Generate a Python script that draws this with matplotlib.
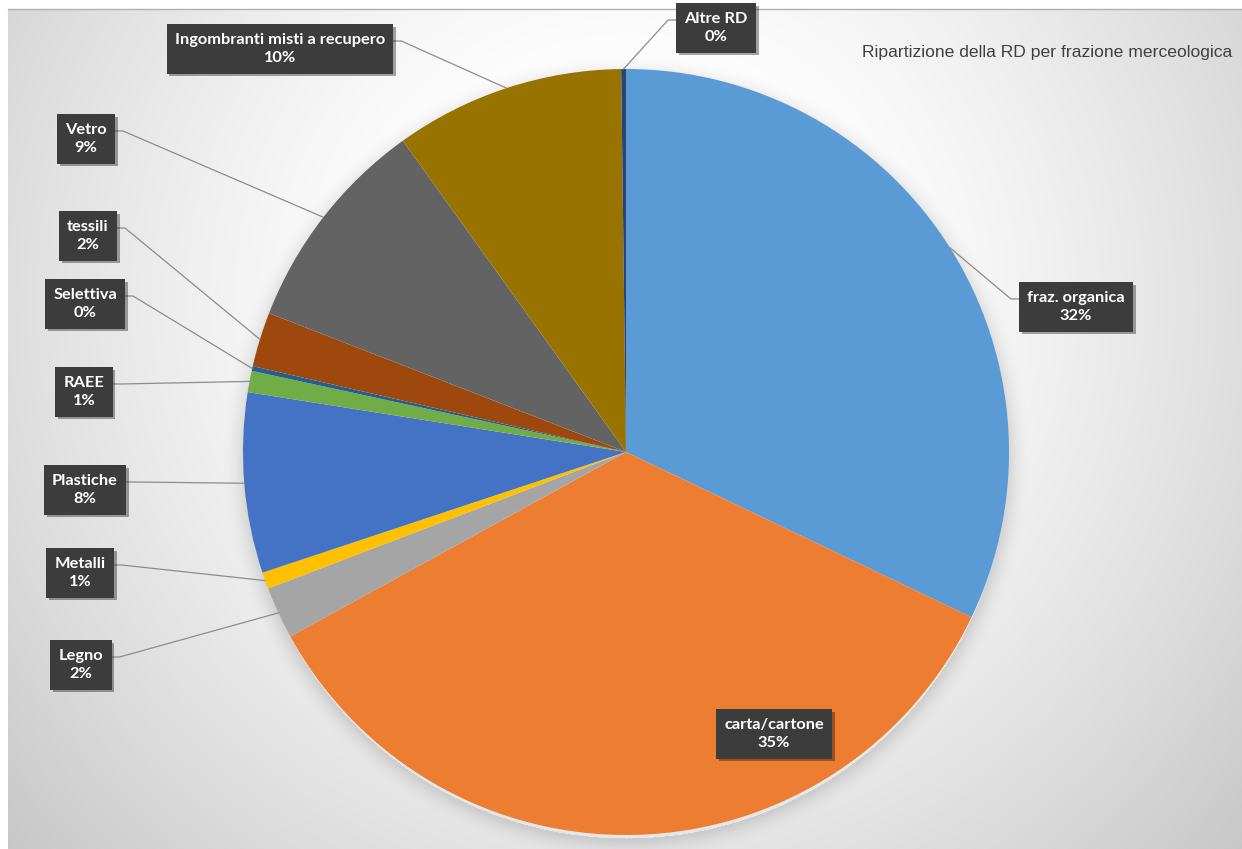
import numpy as np
import matplotlib
matplotlib.use("Agg")
import matplotlib.pyplot as plt
from matplotlib import patheffects

# Ripartizione della raccolta differenziata per frazione merceologica (%)
categories = ["fraz. organica", "carta/cartone", "Legno", "Metalli", "Plastiche",
              "RAEE", "Selettiva", "tessili", "Vetro",
              "Ingombranti misti a recupero", "Altre RD"]
shares = [32.1, 34.9, 2.2, 0.7, 7.6, 0.9, 0.2, 2.3, 9.2, 9.7, 0.2]
colors = ["#5B9BD5", "#ED7D31", "#A5A5A5", "#FFC000", "#4472C4", "#70AD47",
          "#255E91", "#9E480E", "#636363", "#997300", "#264478"]
title = "Ripartizione della RD per frazione merceologica"

W, H = 1242, 849
CX, CY, R = 626, H - 452, 383

# label box centres in pixels (y from top); carta/cartone sits inside its slice
label_pos = {
    "fraz. organica": (1076, 307),
    "carta/cartone": (774, 734),
    "Legno": (81, 665),
    "Metalli": (80, 573),
    "Plastiche": (85, 490),
    "RAEE": (84, 392),
    "Selettiva": (85, 304),
    "tessili": (88, 236),
    "Vetro": (86, 139),
    "Ingombranti misti a recupero": (280, 49),
    "Altre RD": (716, 28),
}

fig = plt.figure(figsize=(W / 100, H / 100), dpi=100)
ax = fig.add_axes([0, 0, 1, 1])

# grey radial background with a soft shadow under the pie
yy, xx = np.mgrid[0:H, 0:W]
d = np.hypot(xx - 626, yy - 300)
bg = 1 - 0.22 * np.clip((d - 200) / 630, 0, 1) ** 1.3
ds = np.hypot(xx - CX, yy - (452 + 5))
shadow = np.where(ds > R - 2, np.clip(1 - (ds - R) / 22, 0, 1) ** 2, 0)
bg = bg - 0.10 * shadow
bg[:9, :] = 1.0
bg[:, :8] = 1.0
ax.imshow(np.dstack([bg] * 3), extent=(0, W, 0, H), origin="upper",
          interpolation="bilinear", zorder=0)
ax.plot([8, W], [H - 9, H - 9], color="#b0b0b0", lw=1, zorder=1)

wedges, _ = ax.pie(shares, colors=colors, startangle=90, counterclock=False,
                   center=(CX, CY), radius=R,
                   wedgeprops=dict(linewidth=0, zorder=2))

ax.set_xlim(0, W)
ax.set_ylim(0, H)
ax.set_aspect("equal")
ax.axis("off")

ax.text(1232, H - 52, title, ha="right", va="center", fontsize=12.6,
        family="Liberation Sans", color="#404040", zorder=5)

texts = {}
for name, val in zip(categories, shares):
    px, py = label_pos[name]
    t = ax.text(px, H - py, f"{name}\n{round(val)}%", ha="center", va="center",
                fontsize=11.8, family="Lato", fontweight="bold", color="white",
                linespacing=1.45, zorder=6,
                bbox=dict(boxstyle="square,pad=0.5", fc="#3c3c3c", ec="none"))
    t.get_bbox_patch().set_path_effects(
        [patheffects.withSimplePatchShadow(offset=(2, -2), shadow_rgbFace="black",
                                           alpha=0.35)])
    texts[name] = t

fig.canvas.draw()
inv = ax.transData.inverted()

# leader lines from the middle of each slice edge to its box
for name, w in zip(categories, wedges):
    if name == "carta/cartone":
        continue
    mid = np.deg2rad((w.theta1 + w.theta2) / 2)
    sx, sy = CX + R * np.cos(mid), CY + R * np.sin(mid)
    bb = texts[name].get_bbox_patch().get_window_extent()
    (x0, y0), (x1, y1) = inv.transform([[bb.x0, bb.y0], [bb.x1, bb.y1]])
    ay = (y0 + y1) / 2 + 8
    if sx < (x0 + x1) / 2:
        ex, kx = x0, x0 - 8
    else:
        ex, kx = x1, x1 + 8
    ax.plot([sx, kx, ex], [sy, ay, ay], color="#8c8c8c", lw=0.9, zorder=3)

fig.savefig("out.png", dpi=100)
